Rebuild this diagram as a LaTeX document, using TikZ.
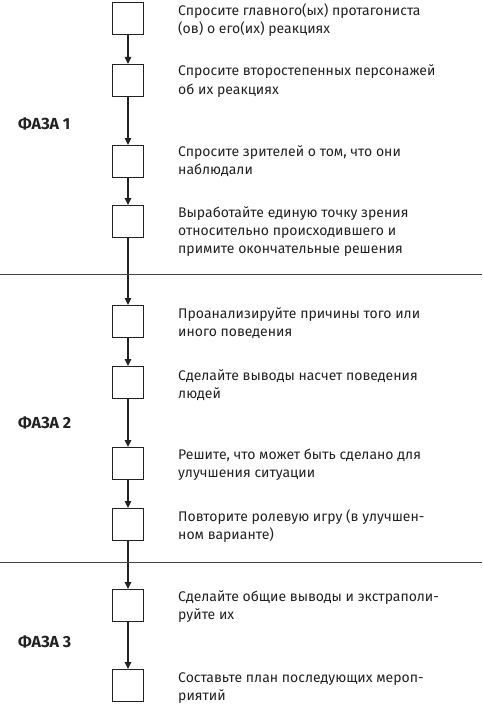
\documentclass[tikz,border=0pt]{standalone}
\usepackage{fontspec}
\setmainfont{Fira Sans}
\usepackage{xcolor}
\usetikzlibrary{arrows.meta}
\definecolor{ink}{HTML}{222222}
\begin{document}
\begin{tikzpicture}[x=1pt,y=-1pt,
stepbox/.style={draw=ink,line width=1.1pt,minimum width=31pt,minimum height=32pt,inner sep=0pt,anchor=north},
note/.style={anchor=base west,align=left,inner sep=0pt,text=ink,font=\fontsize{14}{18.3}\selectfont},
phase/.style={anchor=west,inner sep=0pt,text=ink,font=\fontsize{16}{18}\selectfont\bfseries},
flow/.style={draw=ink,line width=1.1pt,-{Triangle[length=7pt,width=6.5pt]}},
divider/.style={draw=ink!85,line width=0.9pt}]
\useasboundingbox (0,0) rectangle (482,706);
\node[stepbox] (b1) at (128,2) {};
\node[stepbox] (b2) at (128,64) {};
\node[stepbox] (b3) at (128,145) {};
\node[stepbox] (b4) at (128,205) {};
\node[stepbox] (b5) at (128,305) {};
\node[stepbox] (b6) at (128,366) {};
\node[stepbox] (b7) at (128,447) {};
\node[stepbox] (b8) at (128,508) {};
\node[stepbox] (b9) at (128,589) {};
\node[stepbox] (b10) at (128,669) {};
\node[note] (t1) at (178,33.8) {Спросите главного(ых) протагониста\\(ов) о его(их) реакциях};
\node[note] (t2) at (178,94.3) {Спросите второстепенных персонажей\\об их реакциях};
\node[note] (t3) at (178,174.8) {Спросите зрителей о том, что они\\наблюдали};
\node[note] (t4) at (178,253.6) {Выработайте единую точку зрения\\относительно происходившего и\\примите окончательные решения};
\node[note] (t5) at (178,336.3) {Проанализируйте причины того или\\иного поведения};
\node[note] (t6) at (178,398.3) {Сделайте выводы насчет поведения\\людей};
\node[note] (t7) at (178,477.8) {Решите, что может быть сделано для\\улучшения ситуации};
\node[note] (t8) at (178,539.3) {Повторите ролевую игру (в улучшен-\\ном варианте)};
\node[note] (t9) at (178,619.3) {Сделайте общие выводы и экстраполи-\\руйте их};
\node[note] (t10) at (178,700.3) {Составьте план последующих мероп-\\риятий};
\node[phase] (p1) at (18,124) {ФАЗА 1};
\node[phase] (p2) at (18,423) {ФАЗА 2};
\node[phase] (p3) at (18,642) {ФАЗА 3};
\draw[flow] (b1) -- (b2);
\draw[flow] (b2) -- (b3);
\draw[flow] (b3) -- (b4);
\draw[flow] (b4) -- (b5);
\draw[flow] (b5) -- (b6);
\draw[flow] (b6) -- (b7);
\draw[flow] (b7) -- (b8);
\draw[flow] (b8) -- (b9);
\draw[flow] (b9) -- (b10);
\draw[divider] (0,274) -- (482,274);
\draw[divider] (0,562) -- (482,562);
\end{tikzpicture}
\end{document}
